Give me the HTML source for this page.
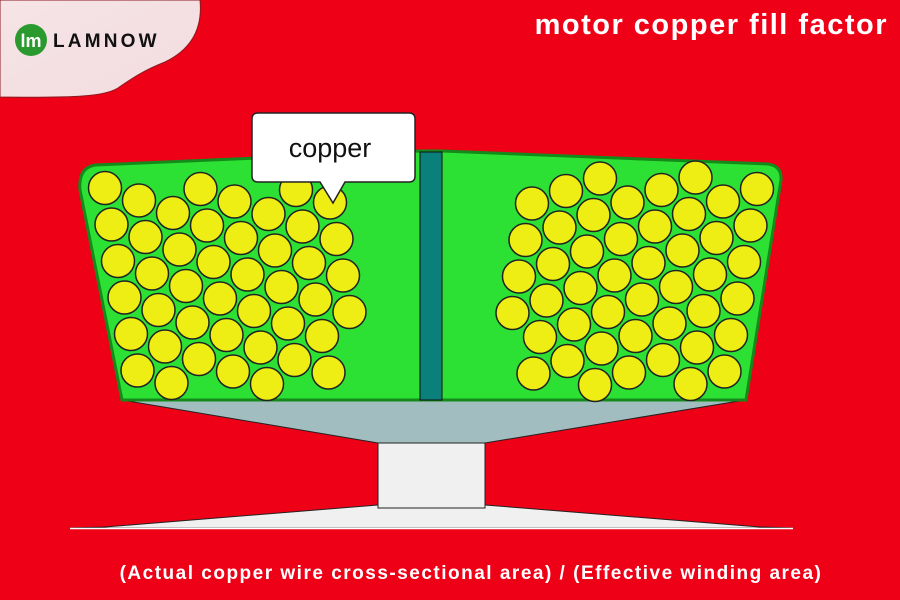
<!DOCTYPE html>
<html><head><meta charset="utf-8"><style>
html,body{margin:0;padding:0;background:#ee0016;}
svg{display:block}
</style></head><body>
<svg id="s" width="900" height="600" viewBox="0 0 900 600" xmlns="http://www.w3.org/2000/svg">
<rect width="900" height="600" fill="#ee0016"/>
<defs><linearGradient id="lg" x1="0" y1="0" x2="1" y2="1"><stop offset="0" stop-color="#f6e4e6"/><stop offset="1" stop-color="#f2dcdf"/></linearGradient></defs>
<path d="M0,0 H200 C203,30 190,50 165,62 C140,72 130,80 118,88 C105,96 80,98 0,97 Z" fill="url(#lg)" stroke="#8a1a20" stroke-width="1"/>
<circle cx="31" cy="40" r="16" fill="#2a9a2e"/>
<text x="31" y="47" font-family="Liberation Sans, sans-serif" font-size="18" font-weight="bold" fill="#fff" text-anchor="middle">lm</text>
<text x="53" y="47" font-family="Liberation Sans, sans-serif" font-size="19" font-weight="bold" fill="#111" letter-spacing="3.2">LAMNOW</text>
<text x="888" y="34" font-family="Liberation Sans, sans-serif" font-size="29" font-weight="bold" fill="#fff" text-anchor="end" letter-spacing="1.5">motor copper fill factor</text>
<path d="M378,505 L105,527 L70,528 L793,528 L760,527 L485,505 Z" fill="#f0f0f0" stroke="#222" stroke-width="1"/>
<rect x="378" y="440" width="107" height="68" fill="#f0f0f0" stroke="#222" stroke-width="1"/>
<path d="M122,400 L745,400 L485,443 L378,443 Z" fill="#a2bdbf" stroke="#222" stroke-width="1"/>
<line x1="70" y1="528.5" x2="793" y2="528.5" stroke="#fff" stroke-width="1.5"/>
<path d="M95,165 L420,151 L442,151 L768,164 Q782,166 781,180 L746,400 L122,400 L80,190 Q78,168 95,165 Z" fill="#2ce034" stroke="#111" stroke-width="1.5"/>
<path d="M95,165 L420,151 L442,151 L768,164 Q782,166 781,180 L746,400 L122,400 L80,190 Q78,168 95,165 Z" fill="none" stroke="#148a1a" stroke-width="3"/>
<rect x="420" y="152" width="22" height="248" fill="#0b7f7a" stroke="#111" stroke-width="1"/>
<g id="c" fill="#eeee14" stroke="#222" stroke-width="1.5"></g>
<path d="M258,113 H409 Q415,113 415,119 V176 Q415,182 409,182 H345 L333,203 L320,182 H258 Q252,182 252,176 V119 Q252,113 258,113 Z" fill="#fff" stroke="#222" stroke-width="1.5"/>
<text x="330" y="157" font-family="Liberation Sans, sans-serif" font-size="27" fill="#111" text-anchor="middle">copper</text>
<text x="471" y="579" font-family="Liberation Sans, sans-serif" font-size="19" font-weight="bold" fill="#fff" text-anchor="middle" letter-spacing="1.5">(Actual copper wire cross-sectional area) / (Effective winding area)</text>
</svg>
<script>
(function(){
var g=document.getElementById('c'),ns='http://www.w3.org/2000/svg',out=[];
function gen(ox,oy,ax,ay,bx,by,ok){
 for(var i=-10;i<=10;i++)for(var j=-10;j<=10;j++){
  var x=ox+i*ax+j*bx,y=oy+i*ay+j*by;
  if(ok(x,y))out.push([x,y]);
 }}
gen(105,188,34,12.5,6.5,36.5,function(x,y){
 var le=90+(y-175)*32/220;
 return y>=180&&y<=385&&x>=le+10&&x<=350;});
gen(757,189,-34,12.5,-6.5,36.5,function(x,y){
 var re=780-(y-175)*35/225;
 return y>=176&&y<=386&&x<=re-14&&x>=512;});
out.forEach(function(p){var c=document.createElementNS(ns,'circle');
 c.setAttribute('cx',p[0]);c.setAttribute('cy',p[1]);c.setAttribute('r',16.5);g.appendChild(c);});
})();
</script>
</body></html>
